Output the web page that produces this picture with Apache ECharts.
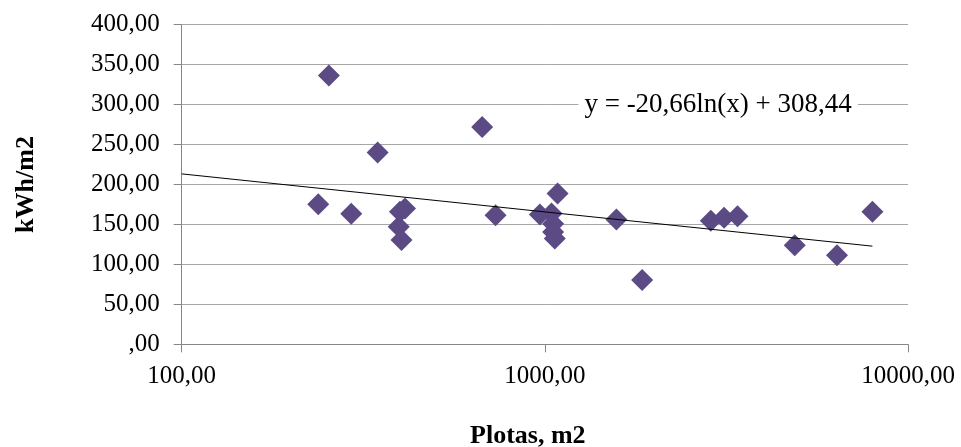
<!DOCTYPE html>
<html>
<head>
<meta charset="utf-8">
<script src="https://cdn.jsdelivr.net/npm/echarts@6/dist/echarts.min.js"></script>
<style>
html,body{margin:0;padding:0;background:#fff;}
#chart{width:961px;height:447px;}
</style>
</head>
<body>
<div id="chart"></div>
<script>
// Plot area (m2) on a log scale
const plotArea = [237.7, 254.3, 293, 346.3, 396, 399, 412, 403, 672, 731.6, 968.8, 1043, 1054, 1054, 1065, 1084, 1574, 1853, 2864, 3115, 3392, 4876, 6376, 7980];
// Consumption kWh/m2
const consumption = [175.4, 336.3, 163.3, 240, 147, 166, 170, 130.4, 272, 161.6, 162.5, 163.7, 151, 140.7, 132.5, 188.7, 156.2, 80.4, 154.5, 158.3, 160.4, 124.1, 111.6, 165.8];
// Logarithmic trendline coefficients (y = a ln(x) + b)
const trendA = -20.66;
const trendB = 308.44;
const trendRange = [100, 7980];
const yTicks = [0, 50, 100, 150, 200, 250, 300, 350, 400];
const xTicks = [100, 1000, 10000];
const equationText = 'y = -20,66ln(x) + 308,44';

const points = plotArea.map((x, i) => [x, consumption[i]]);
const trend = trendRange.map(x => [x, trendA * Math.log(x) + trendB]);

const fmt = v => v === 0 ? ',00' : Number(v).toFixed(2).replace('.', ',');
const FONT = '"Liberation Serif", "Times New Roman", serif';

const chart = echarts.init(document.getElementById('chart'), null, {renderer: 'canvas'});
chart.setOption({
  animation: false,
  backgroundColor: '#fff',
  grid: {left: 181.7, right: 53, top: 24.7, bottom: 102.7, containLabel: false, outerBoundsMode: 'none'},
  xAxis: {
    type: 'log', logBase: 10, min: xTicks[0], max: xTicks[xTicks.length - 1],
    name: 'Plotas, m2', nameLocation: 'middle', nameGap: 79,
    nameTextStyle: {fontFamily: FONT, fontSize: 26, fontWeight: 'bold', color: '#000', padding: [0, 34, 0, 0]},
    axisLine: {show: true, lineStyle: {color: '#868686', width: 1}},
    axisTick: {show: true, length: 8, inside: false, lineStyle: {color: '#868686'}},
    minorTick: {show: false},
    splitLine: {show: false},
    axisLabel: {fontFamily: FONT, fontSize: 25, color: '#000', margin: 20, formatter: fmt, showMinLabel: true, showMaxLabel: true}
  },
  yAxis: {
    type: 'value', min: yTicks[0], max: yTicks[yTicks.length - 1], interval: 50,
    name: 'kWh/m2', nameLocation: 'middle', nameGap: 142, nameRotate: 90,
    nameTextStyle: {fontFamily: FONT, fontSize: 26, fontWeight: 'bold', color: '#000'},
    axisLine: {show: true, lineStyle: {color: '#868686', width: 1}},
    axisTick: {show: true, length: 8, inside: false, lineStyle: {color: '#868686'}},
    splitLine: {show: true, lineStyle: {color: '#a6a6a6', width: 1}},
    axisLabel: {fontFamily: FONT, fontSize: 25, color: '#000', margin: 22, formatter: fmt}
  },
  series: [
    {
      type: 'line', data: trend, symbol: 'none', silent: true, z: 3,
      lineStyle: {color: '#000', width: 1},
      markPoint: {
        symbol: 'rect', symbolSize: 1, silent: true,
        itemStyle: {color: 'rgba(0,0,0,0)'},
        data: [{coord: [3000, 300]}],
        label: {
          show: true, position: 'inside', formatter: equationText,
          fontFamily: FONT, fontSize: 27, color: '#000',
          backgroundColor: '#fff', padding: [0, 6]
        }
      }
    },
    {
      type: 'scatter', data: points, symbol: 'diamond', symbolSize: 22, z: 2,
      itemStyle: {color: '#5b4a84', opacity: 1}
    }
  ]
});
</script>
</body>
</html>
